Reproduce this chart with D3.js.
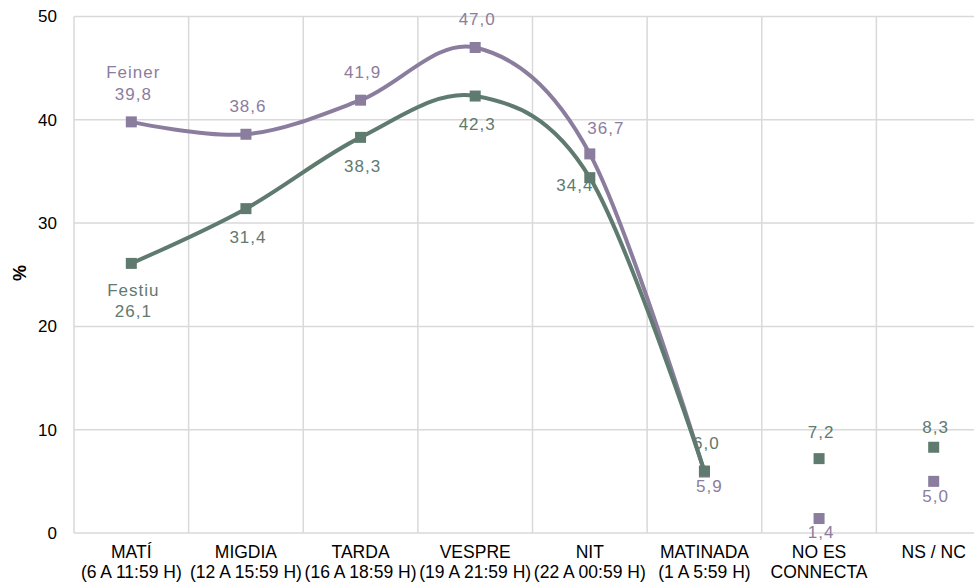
<!DOCTYPE html>
<meta charset="utf-8">
<style>
  body { margin: 0; background: #fff; }
  svg { font-family: "Liberation Sans", Arial, sans-serif; }
</style>
<svg id="chart"></svg>
<script src="https://cdnjs.cloudflare.com/ajax/libs/d3/7.8.5/d3.min.js"></script>
<script>

// data
var categories = ["MATÍ|(6 A 11:59 H)", "MIGDIA|(12 A 15:59 H)", "TARDA|(16 A 18:59 H)",
  "VESPRE|(19 A 21:59 H)", "NIT|(22 A 00:59 H)", "MATINADA|(1 A 5:59 H)",
  "NO ES|CONNECTA", "NS / NC"]
var feiner = [39.8, 38.6, 41.9, 47.0, 36.7, 5.9, 1.4, 5.0]
var festiu = [26.1, 31.4, 38.3, 42.3, 34.4, 6.0, 7.2, 8.3]
var yTicks = [0, 10, 20, 30, 40, 50]
// the first six points are joined by a line, the last two are loose points
var joined = 6

var width = 974, height = 585
var svg = d3.select("#chart").attr("width", width).attr("height", height)

var x = d3.scaleBand().domain(categories).range([74, 991])
var y = d3.scaleLinear().domain([0, 50]).range([533, 16.5])

var grid = "#d9d9d9"

// horizontal gridlines
svg.append("g").selectAll("line").data(yTicks).enter().append("line")
  .attr("x1", 74).attr("x2", 991)
  .attr("y1", function(d) { return y(d) }).attr("y2", function(d) { return y(d) })
  .attr("stroke", grid).attr("stroke-width", 1.5)

// vertical gridlines at category boundaries
var bounds = categories.map(function(c) { return x(c) }).concat([x.range()[1]])
svg.append("g").selectAll("line").data(bounds).enter().append("line")
  .attr("x1", function(d) { return d }).attr("x2", function(d) { return d })
  .attr("y1", y(50)).attr("y2", y(0))
  .attr("stroke", grid).attr("stroke-width", 1.5)

// y axis labels
var yAxis = svg.append("g").attr("transform", "translate(60,0)")
  .call(d3.axisLeft(y).tickValues(yTicks).tickSize(0).tickPadding(3))
yAxis.select(".domain").remove()
yAxis.selectAll("text").attr("font-size", 17).attr("fill", "#000")
  .attr("font-family", "Liberation Sans, Arial, sans-serif")

svg.append("text")
  .attr("transform", "translate(26,273) rotate(-90)")
  .attr("text-anchor", "middle")
  .attr("font-size", 18).attr("font-weight", "bold")
  .text("%")

// x axis labels, two lines each
var xl = svg.append("g").selectAll("text").data(categories).enter().append("text")
  .attr("text-anchor", "middle").attr("font-size", 17.5).attr("fill", "#000")
  .attr("x", function(d) { return x(d) + x.bandwidth() / 2 })
  .attr("y", 558)
xl.selectAll("tspan").data(function(d) {
    var c = x(d) + x.bandwidth() / 2
    return d.split("|").map(function(t) { return { t: t, c: c } })
  }).enter().append("tspan")
  .attr("x", function(d) { return d.c })
  .attr("dy", function(d, i) { return i ? 20 : 0 })
  .text(function(d) { return d.t })

// label offsets from each point (dx, dy of the text baseline)
var series = [
  { name: "Feiner", values: feiner, color: "#8b7d9e", nameDy: -44,
    off: [[2, -22], [2, -22], [2, -22], [2, -22], [16, -20], [5, 20], [2, 19], [2, 21]] },
  { name: "Festiu", values: festiu, color: "#5f7a6f", nameDy: 33,
    off: [[2, 54], [2, 34], [2, 35], [2, 34], [-15, 13], [2, -22], [2, -21], [2, -14]] }
]

var line = d3.line()
  .x(function(d) { return x(d.c) + x.bandwidth() / 2 })
  .y(function(d) { return y(d.v) })
  .curve(d3.curveCardinal.tension(0))

function fmt(v) { return d3.format(".1f")(v).replace(".", ",") }

series.forEach(function(s) {
  var pts = s.values.map(function(v, i) { return { c: categories[i], v: v, i: i } })
  svg.append("path").datum(pts.slice(0, joined))
    .attr("d", line).attr("fill", "none")
    .attr("stroke", s.color).attr("stroke-width", 4)

  svg.append("g").selectAll("rect").data(pts).enter().append("rect")
    .attr("x", function(d) { return x(d.c) + x.bandwidth() / 2 - 5.5 })
    .attr("y", function(d) { return y(d.v) - 5.5 })
    .attr("width", 11).attr("height", 11)
    .attr("fill", s.color)
})

series.forEach(function(s) {
  var pts = s.values.map(function(v, i) { return { c: categories[i], v: v, i: i } })
  svg.append("g").selectAll("text").data(pts).enter().append("text")
    .attr("text-anchor", "middle").attr("font-size", 17)
    .attr("letter-spacing", 1).attr("fill", s.color)
    .attr("x", function(d) { return x(d.c) + x.bandwidth() / 2 + s.off[d.i][0] })
    .attr("y", function(d) { return y(d.v) + s.off[d.i][1] })
    .text(function(d) { return fmt(d.v) })

  // series name next to the first point
  svg.append("text")
    .attr("text-anchor", "middle").attr("font-size", 17)
    .attr("letter-spacing", 1).attr("fill", s.color)
    .attr("x", x(categories[0]) + x.bandwidth() / 2 + 2)
    .attr("y", y(s.values[0]) + s.nameDy)
    .text(s.name)
})

</script>
